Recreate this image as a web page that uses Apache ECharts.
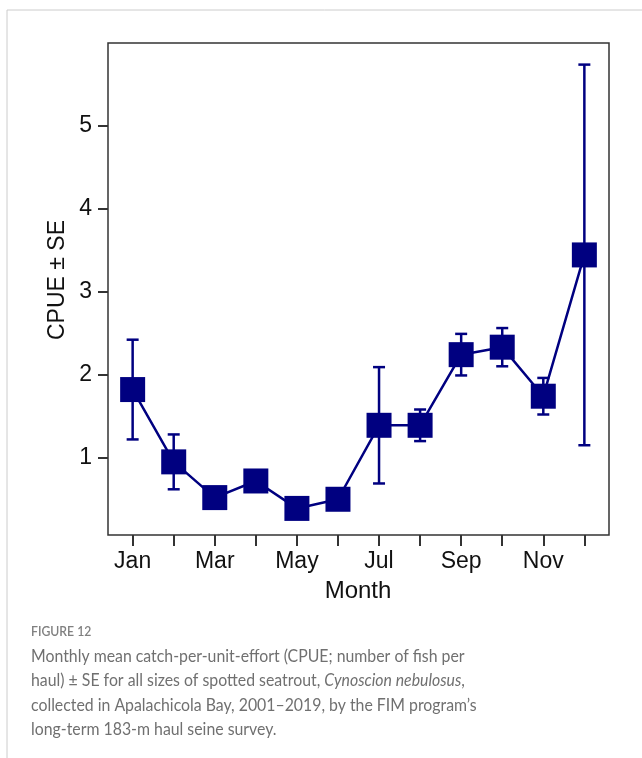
<!DOCTYPE html>
<html>
<head>
<meta charset="utf-8">
<title>Monthly CPUE of spotted seatrout</title>
<script src="https://cdn.jsdelivr.net/npm/echarts@6/dist/echarts.min.js"></script>
<style>
  html, body { margin: 0; padding: 0; background: #ffffff; }
  #chart { width: 642px; height: 758px; }
</style>
</head>
<body>
<div id="chart"></div>
<script>
// Month names and numeric positions (1 = Jan ... 12 = Dec)
const months = ['Jan', 'Feb', 'Mar', 'Apr', 'May', 'Jun', 'Jul', 'Aug', 'Sep', 'Oct', 'Nov', 'Dec'];
const monthNumbers = [1, 2, 3, 4, 5, 6, 7, 8, 9, 10, 11, 12];
const labelledMonths = [1, 3, 5, 7, 9, 11];

// Mean CPUE (fish per haul) and standard error for each month
const cpueMean = [1.82, 0.95, 0.52, 0.72, 0.39, 0.50, 1.39, 1.39, 2.24, 2.33, 1.74, 3.44];
const cpueSE   = [0.60, 0.33, 0.08, 0.07, 0.06, 0.07, 0.70, 0.19, 0.25, 0.23, 0.22, 2.29];

// Y axis tick values
const yTicks = [1, 2, 3, 4, 5];

const navy = '#000080';
const axisInk = '#333333';
const font = 'Liberation Sans, Arial, Helvetica, sans-serif';
const captionFont = 'Lato, "Open Sans", sans-serif';
const captionSquash = 0.905;

const meanPoints = monthNumbers.map((m, i) => [m, cpueMean[i]]);
const errorPoints = monthNumbers.map((m, i) => [m, cpueMean[i] - cpueSE[i], cpueMean[i] + cpueSE[i]]);

const chart = echarts.init(document.getElementById('chart'), null, { renderer: 'canvas' });

function captionLine(y, text, extra) {
  return {
    type: 'text', x: 31, y: y, scaleX: captionSquash,
    style: Object.assign({ text: text, fontSize: 17.5, fontFamily: captionFont, fill: '#707070', verticalAlign: 'middle' }, extra || {})
  };
}

chart.setOption({
  backgroundColor: '#ffffff',
  animation: false,
  grid: {
    left: 108, top: 43, right: 33, bottom: 223,
    show: true, borderColor: axisInk, borderWidth: 1.5, backgroundColor: 'transparent'
  },
  xAxis: {
    type: 'value',
    min: 0.4, max: 12.6,
    axisLine: { show: false },
    splitLine: { show: false },
    axisTick: { show: true, length: 11, customValues: monthNumbers, lineStyle: { color: axisInk, width: 2 } },
    axisLabel: {
      customValues: labelledMonths,
      formatter: v => months[Math.round(v) - 1],
      margin: 15, color: '#111111', fontSize: 23, fontFamily: font
    }
  },
  yAxis: {
    type: 'value',
    min: 0.07, max: 5.99,
    axisLine: { show: false },
    splitLine: { show: false },
    axisTick: { show: true, length: 10, customValues: yTicks, lineStyle: { color: axisInk, width: 2 } },
    axisLabel: {
      customValues: yTicks,
      margin: 16, color: '#111111', fontSize: 23, fontFamily: font
    }
  },
  series: [
    {
      // Error bars: mean ± SE with short horizontal caps
      type: 'custom',
      z: 2,
      data: errorPoints,
      renderItem: (params, api) => {
        const x = api.value(0);
        const lo = api.coord([x, api.value(1)]);
        const hi = api.coord([x, api.value(2)]);
        const cap = 6;
        const style = { stroke: navy, lineWidth: 2.5 };
        return {
          type: 'group',
          children: [
            { type: 'line', shape: { x1: lo[0], y1: lo[1], x2: hi[0], y2: hi[1] }, style },
            { type: 'line', shape: { x1: hi[0] - cap, y1: hi[1], x2: hi[0] + cap, y2: hi[1] }, style },
            { type: 'line', shape: { x1: lo[0] - cap, y1: lo[1], x2: lo[0] + cap, y2: lo[1] }, style }
          ]
        };
      }
    },
    {
      // Monthly means joined by a line, drawn as filled squares
      type: 'line',
      z: 3,
      data: meanPoints,
      symbol: 'rect',
      symbolSize: 25,
      itemStyle: { color: navy, opacity: 1 },
      lineStyle: { color: navy, width: 2.5 }
    }
  ],
  graphic: [
    // Figure frame
    {
      type: 'polyline', silent: true,
      shape: { points: [[7, 758], [7, 10], [642, 10]] },
      style: { stroke: '#cccccc', lineWidth: 1, fill: null }
    },
    // Axis titles
    {
      type: 'text', x: 358, y: 591,
      style: { text: 'Month', fontSize: 24, fontFamily: font, fill: '#111111', align: 'center', verticalAlign: 'middle' }
    },
    {
      type: 'text', x: 58, y: 280, rotation: Math.PI / 2,
      style: { text: 'CPUE ± SE', fontSize: 23, fontFamily: font, fill: '#111111', align: 'center', verticalAlign: 'middle' }
    },
    // Caption
    {
      type: 'text', x: 31, y: 632, scaleX: captionSquash,
      style: { text: 'FIGURE 12', fontSize: 13.5, fontWeight: 600, fontFamily: captionFont, fill: '#808080', verticalAlign: 'middle' }
    },
    captionLine(656, 'Monthly mean catch-per-unit-effort (CPUE; number of fish per'),
    captionLine(680.5, 'haul) ± SE for all sizes of spotted seatrout, {i|Cynoscion nebulosus},', {
      rich: { i: { fontStyle: 'italic', fontSize: 17.5, fontFamily: captionFont, fill: '#707070' } }
    }),
    captionLine(705, 'collected in Apalachicola Bay, 2001–2019, by the FIM program’s'),
    captionLine(729, 'long-term 183-m haul seine survey.')
  ]
});
</script>
</body>
</html>
